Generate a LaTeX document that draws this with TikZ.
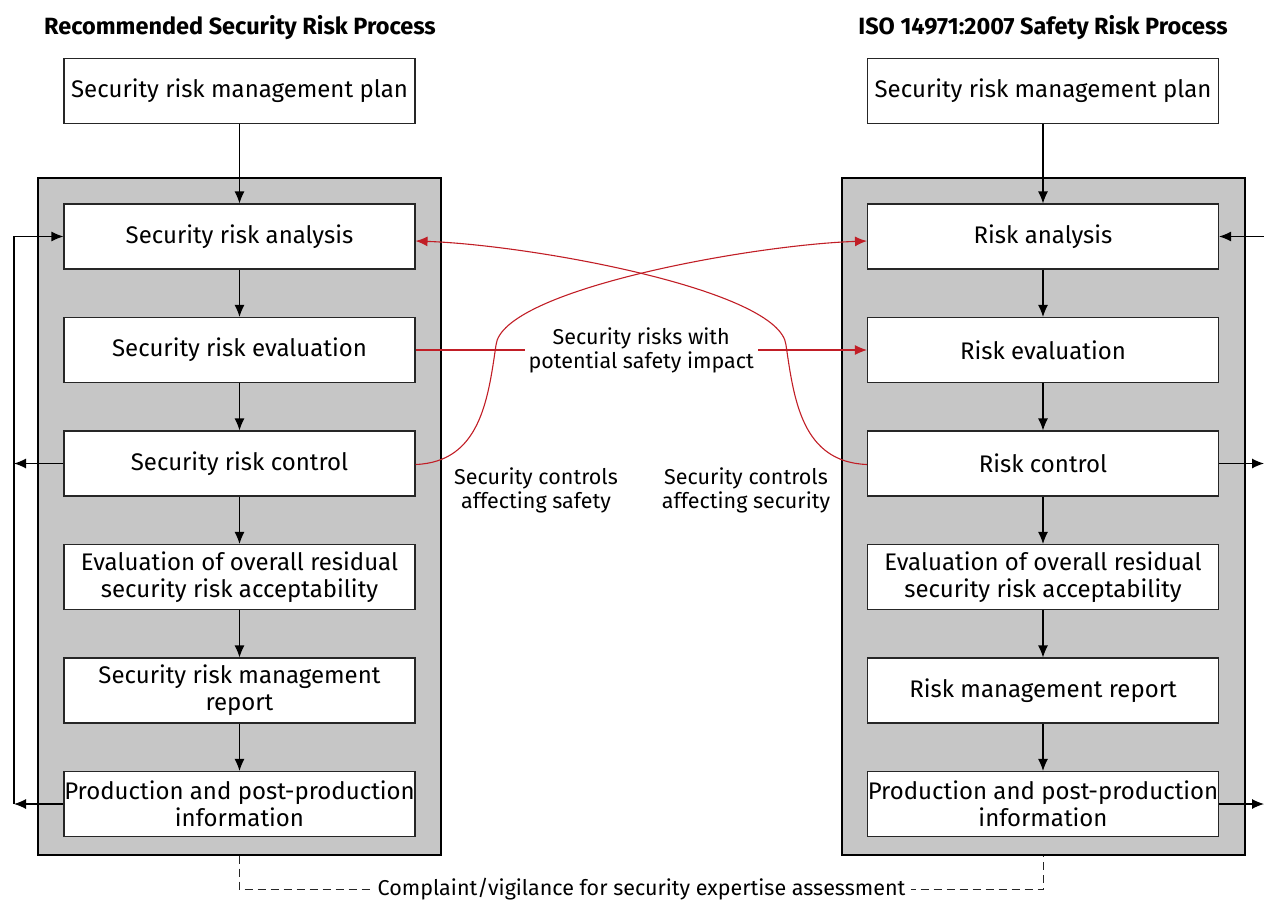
\documentclass[tikz,border=0pt]{standalone}
\usepackage{fontspec}
\setmainfont{Fira Sans}
\usepackage{xcolor}
\definecolor{accent}{RGB}{193,30,38}
\definecolor{panelgray}{RGB}{198,198,198}
\usetikzlibrary{positioning}
\usetikzlibrary{arrows.meta}

\begin{document}
\begin{tikzpicture}[x=1pt,y=-1pt,line width=1.1pt,>={Latex[length=12pt,width=10pt]},
  every node/.style={font=\fontsize{24}{27}\selectfont},
  title/.style={font=\fontsize{23.5}{27}\selectfont\bfseries},
  box/.style={draw=black!85,fill=white,minimum width=351pt,minimum height=65pt,inner sep=0pt,align=center},
  panel/.style={draw,fill=panelgray,minimum width=403pt,minimum height=677pt},
  note/.style={align=center,text=black,font=\fontsize{21.5}{24}\selectfont}]
\useasboundingbox (0,0) rectangle (1264,902);
\node[title] (ltitle) at (240,28) {Recommended Security Risk Process};
\node[title] (rtitle) at (1043,28) {ISO 14971:2007 Safety Risk Process};
\node[panel] (lpanel) at (239.5,516.5) {};
\node[panel] (rpanel) at (1043.5,516.5) {};
% left column
\node[box] (lplan) at (239.5,91) {Security risk management plan};
\node[box] (lana) at (239.5,236.5) {Security risk analysis};
\node[box] (leva) [below=47.4pt of lana] {Security risk evaluation};
\node[box] (lcon) [below=47.4pt of leva] {Security risk control};
\node[box] (lres) [below=47.4pt of lcon] {Evaluation of overall residual\\security risk acceptability};
\node[box] (lrep) [below=47.4pt of lres] {Security risk management\\report};
\node[box] (lprod) [below=47.4pt of lrep] {Production and post-production\\information};
% right column
\node[box] (rplan) at (1043,91) {Security risk management plan};
\node[box] (rana) at (1043,236.5) {Risk analysis};
\node[box] (reva) [below=47.4pt of rana] {Risk evaluation};
\node[box] (rcon) [below=47.4pt of reva] {Risk control};
\node[box] (rres) [below=47.4pt of rcon] {Evaluation of overall residual\\security risk acceptability};
\node[box] (rrep) [below=47.4pt of rres] {Risk management report};
\node[box] (rprod) [below=47.4pt of rrep] {Production and post-production\\information};
\foreach \a/\b in {plan/ana,ana/eva,eva/con,con/res,res/rep,rep/prod} {
  \draw[->] (l\a) -- (l\b);
  \draw[->] (r\a) -- (r\b);
}
% feedback rails
\coordinate (lrail) at (14,0);
\coordinate (rrail) at (1264,0);
\draw[->] (lcon.west) -- (lcon.west -| lrail);
\draw[->] (lprod.west) -- (lprod.west -| lrail);
\draw[->] (lprod.west -| lrail) -- (lana.west -| lrail) -- (lana.west);
\draw[<-] (rana.east) -- (rana.east -| rrail);
\draw[->] (rcon.east) -- (rcon.east -| rrail);
\draw[->] (rprod.east) -- (rprod.east -| rrail);
% safety / security links
\draw[accent,->] (leva) -- (reva) node[midway,fill=white,note,inner sep=4pt] {Security risks with\\potential safety impact};
\draw[accent,->] ([yshift=-1pt]lcon.east) .. controls (480,462) and (488,400) .. (496,345)
  .. controls (502,290) and (750,245) .. ([yshift=-4.5pt]rana.west);
\draw[accent,->] ([yshift=-1pt]rcon.west) .. controls (802,462) and (794,400) .. (786,345)
  .. controls (780,290) and (532,245) .. ([yshift=-4.5pt]lana.east);
\node[note] (safety) at (536,490) {Security controls\\affecting safety};
\node[note] (security) at (746,490) {Security controls\\affecting security};
% vigilance loop
\draw[black!85,line width=0.9pt,dash pattern=on 8pt off 5pt] (lpanel.south) -- ++(0,34) coordinate (ldash)
  -- (ldash -| rpanel.south) node[midway,fill=white,note,inner sep=6pt] {Complaint/vigilance for security expertise assessment}
  -- (rpanel.south);
\end{tikzpicture}
\end{document}
